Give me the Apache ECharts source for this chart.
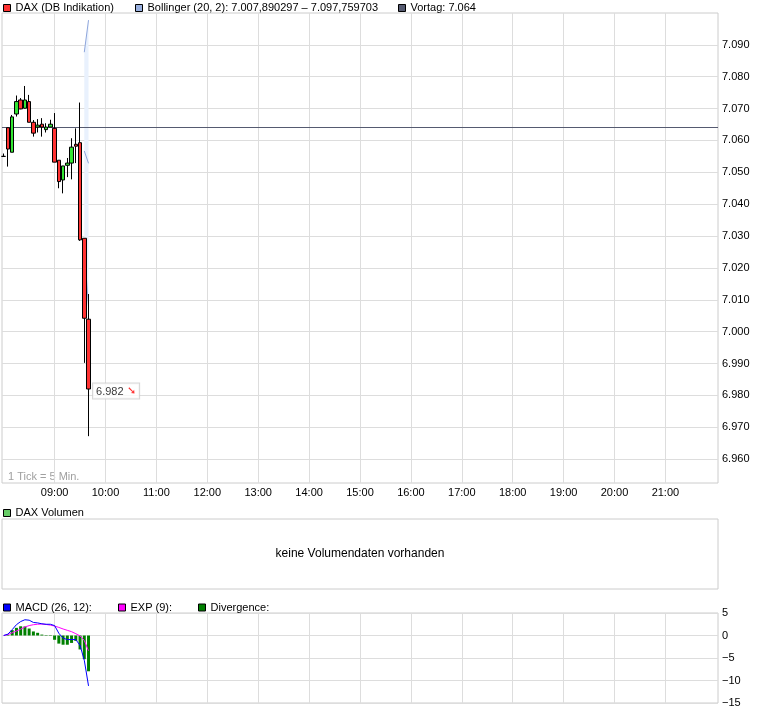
<!DOCTYPE html>
<html>
<head>
<meta charset="utf-8">
<script src="https://cdn.jsdelivr.net/npm/echarts@6/dist/echarts.min.js"></script>
<style>html,body{margin:0;padding:0;background:#fff}#c{width:760px;height:712px}</style>
</head>
<body>
<div id="c"></div>
<script>
// ---- data ----
const candleTimes = ['08:00','08:05','08:10','08:15','08:20','08:25','08:30','08:35','08:40','08:45','08:50','08:55','09:00','09:05','09:10','09:15','09:20','09:25','09:30','09:35','09:40'];
const openVals  = [7055.0,7064.0,7056.3,7068.3,7072.7,7070.1,7072.2,7065.7,7064.2,7065.1,7063.4,7064.2,7063.8,7053.8,7047.6,7052.2,7052.9,7058.8,7059.3,7029.3,7003.9];
const closeVals = [7055.0,7057.3,7067.4,7072.2,7069.9,7072.7,7065.7,7062.3,7064.8,7064.2,7064.2,7065.1,7053.2,7047.1,7052.0,7052.9,7057.9,7058.2,7028.8,7004.2,6982.0];
const lowVals   = [7055.0,7051.8,7056.3,7067.5,7069.8,7070.0,7065.7,7061.2,7062.5,7061.2,7062.5,7064.2,7053.2,7045.0,7043.4,7048.5,7047.8,7052.9,7028.5,6990.2,6967.2];
const highVals  = [7055.9,7064.0,7068.0,7074.1,7073.3,7077.1,7074.3,7066.4,7066.7,7067.0,7065.4,7066.5,7068.6,7053.8,7052.0,7054.5,7060.7,7063.8,7071.9,7029.3,7011.8];

const bollTimes  = ['09:35','09:40'];
const bollUpper  = [7087.7, 7097.759703];
const bollMiddle = [7056.7, 7052.825];
const bollLower  = [7025.7, 7007.890297];

const vortag = 7064;

const macdVals = [0, 0.3, 1.3, 2.4, 3.1, 3.5, 3.4, 2.9, 2.8, 2.6, 2.5, 2.5, 2.2, 0.5, -0.6, -0.9, -0.9, -0.9, -2.2, -5.5, -11.2];
const expVals  = [0, 0.2, 0.6, 1.0, 1.4, 1.9, 2.2, 2.4, 2.5, 2.55, 2.45, 2.3, 2.1, 1.8, 1.45, 1.15, 0.85, 0.4, -0.1, -1.1, -3.4];
const divVals  = [null, 0.15, 1.2, 1.7, 2.05, 2.0, 1.55, 0.9, 0.6, 0.2, 0.1, 0.1, -0.95, -1.8, -2.05, -2.05, -1.65, -1.2, -3.1, -5.25, -7.95];

const hourTicks  = ['09:00','10:00','11:00','12:00','13:00','14:00','15:00','16:00','17:00','18:00','19:00','20:00','21:00'];
const priceTicks = [6960,6970,6980,6990,7000,7010,7020,7030,7040,7050,7060,7070,7080,7090];

// ---- helpers ----
const toMin = s => { const p = s.split(':'); return (+p[0]) * 60 + (+p[1]); };
const pad2 = n => (n < 10 ? '0' : '') + n;
const minToLabel = m => pad2(Math.floor(m / 60)) + ':' + pad2(Math.round(m % 60));
function fmtDE(v, dec) {
  const s = Math.abs(v).toFixed(dec);
  const parts = s.split('.');
  const ip = parts[0].replace(/\B(?=(\d{3})+(?!\d))/g, '.');
  return (v < 0 ? '−' : '') + ip + (dec > 0 ? ',' + parts[1] : '');
}

const FONT = '"Liberation Sans", Arial, sans-serif';
const X_MIN = 478, X_MAX = 1322;
const hourMins = hourTicks.map(toMin);
const GRID_COLOR = '#dddddd';
const FRAME_COLOR = '#cccccc';

const nameDAX = 'DAX (DB Indikation)';
const nameBoll = 'Bollinger (20, 2): ' + fmtDE(bollLower[bollLower.length - 1], 6) + ' – ' + fmtDE(bollUpper[bollUpper.length - 1], 6);
const nameVortag = 'Vortag: ' + fmtDE(vortag, 0);
const nameVol = 'DAX Volumen';
const nameMACD = 'MACD (26, 12):';
const nameEXP = 'EXP (9):';
const nameDiv = 'Divergence:';

const candleData = candleTimes.map((t, i) => [toMin(t), openVals[i], closeVals[i], lowVals[i], highVals[i]]);
const lastIdx = candleTimes.length - 1;

function xAxisFor(gi, showLabels) {
  return {
    type: 'value', gridIndex: gi, min: X_MIN, max: X_MAX,
    axisLine: { show: false },
    axisTick: { show: false, customValues: hourMins },
    axisLabel: {
      show: showLabels, customValues: hourMins, formatter: v => minToLabel(v),
      color: '#000', fontSize: 11, fontFamily: FONT, margin: 4
    },
    splitLine: { show: gi !== 1, lineStyle: { color: GRID_COLOR, width: 1 } }
  };
}

function legendAt(left, top, name, color) {
  return {
    left: left, top: top, padding: 0, itemWidth: 7, itemHeight: 7, icon: 'rect',
    selectedMode: false,
    textStyle: { color: '#000', fontSize: 11, fontFamily: FONT },
    data: [{ name: name, icon: 'rect', itemStyle: { color: color, borderColor: '#000', borderWidth: 1 } }]
  };
}

const option = {
  animation: false,
  backgroundColor: '#fff',
  textStyle: { fontFamily: FONT },
  grid: [
    { left: 2, right: 42, top: 13, height: 470, show: true, borderColor: FRAME_COLOR, borderWidth: 1, outerBoundsMode: 'none' },
    { left: 2, right: 42, top: 519, height: 70, show: true, borderColor: FRAME_COLOR, borderWidth: 1, outerBoundsMode: 'none' },
    { left: 2, right: 42, top: 613, height: 90, show: true, borderColor: FRAME_COLOR, borderWidth: 1, outerBoundsMode: 'none' }
  ],
  legend: [
    legendAt(3, 2.5, nameDAX, '#ff3333'),
    legendAt(135, 2.5, nameBoll, '#99b0e0'),
    legendAt(398, 2.5, nameVortag, '#555a70'),
    legendAt(3, 507.5, nameVol, '#66cc66'),
    legendAt(3, 602, nameMACD, '#0000ff'),
    legendAt(118, 602, nameEXP, '#ff00ff'),
    legendAt(198, 602, nameDiv, '#008000')
  ],
  xAxis: [xAxisFor(0, true), xAxisFor(1, false), xAxisFor(2, false)],
  yAxis: [
    {
      type: 'value', gridIndex: 0, position: 'right', min: 6952.5, max: 7100, scale: true,
      axisLine: { show: false },
      axisTick: { show: false, customValues: priceTicks },
      axisLabel: { customValues: priceTicks, formatter: v => fmtDE(v, 0), color: '#000', fontSize: 11, fontFamily: FONT, margin: 4 },
      splitLine: { show: true, lineStyle: { color: GRID_COLOR, width: 1 } }
    },
    { type: 'value', gridIndex: 1, show: false, min: 0, max: 1, splitLine: { show: false } },
    {
      type: 'value', gridIndex: 2, position: 'right', min: -15, max: 5, interval: 5,
      axisLine: { show: false }, axisTick: { show: false },
      axisLabel: { formatter: v => (v < 0 ? '−' + Math.abs(v) : String(v)), color: '#000', fontSize: 11, fontFamily: FONT, margin: 4 },
      splitLine: { show: true, lineStyle: { color: GRID_COLOR, width: 1 } }
    }
  ],
  graphic: [
    { type: 'text', left: 8, top: 471, silent: true,
      style: { text: '1 Tick = 5 Min.', fill: '#a0a0a0', font: '11px ' + FONT } },
    { type: 'text', x: 360, y: 554, silent: true,
      style: { text: 'keine Volumendaten vorhanden', fill: '#000', font: '12px ' + FONT, align: 'center', verticalAlign: 'middle' } }
  ],
  series: [
    {
      name: nameBoll, type: 'custom', xAxisIndex: 0, yAxisIndex: 0, z: 1, silent: true,
      data: [[toMin(bollTimes[0]), bollUpper[0]]],
      encode: { x: 0, y: 1 },
      renderItem: (params, api) => {
        const pts = [];
        bollTimes.forEach((t, i) => pts.push(api.coord([toMin(t), bollUpper[i]])));
        for (let i = bollTimes.length - 1; i >= 0; i--) pts.push(api.coord([toMin(bollTimes[i]), bollLower[i]]));
        return { type: 'polygon', shape: { points: pts }, style: { fill: '#e9f1fd' } };
      }
    },
    ...[bollUpper, bollMiddle, bollLower].map(arr => ({
      name: nameBoll, type: 'line', xAxisIndex: 0, yAxisIndex: 0, z: 2, silent: true,
      symbol: 'none', color: '#99b0e0',
      lineStyle: { color: '#8ea6dc', width: 1 },
      data: bollTimes.map((t, i) => [toMin(t), arr[i]])
    })),
    {
      name: nameVortag, type: 'line', xAxisIndex: 0, yAxisIndex: 0, z: 3, silent: true,
      symbol: 'none', color: '#555a70',
      data: [[toMin(candleTimes[0]), vortag]],
      markLine: {
        silent: true, symbol: 'none', label: { show: false },
        lineStyle: { color: '#555a70', width: 1, type: 'solid' },
        data: [{ yAxis: vortag }]
      }
    },
    {
      name: nameDAX, type: 'candlestick', xAxisIndex: 0, yAxisIndex: 0, z: 5,
      barWidth: 4,
      encode: { x: 0, y: [1, 2, 3, 4] },
      itemStyle: { color: '#33e633', color0: '#ff3333', borderColor: '#000', borderColor0: '#000', borderColorDoji: '#000', borderWidth: 1 },
      data: candleData
    },
    {
      name: 'last', type: 'scatter', xAxisIndex: 0, yAxisIndex: 0, z: 6, silent: true,
      symbolSize: 1, itemStyle: { color: 'rgba(0,0,0,0)' },
      data: [[toMin(candleTimes[lastIdx]), closeVals[lastIdx]]],
      label: {
        show: true, position: 'right', distance: 4, offset: [0, 2],
        formatter: () => '{n|' + fmtDE(closeVals[lastIdx], 0) + '} {a|➘}',
        backgroundColor: '#fff', borderColor: '#cccccc', borderWidth: 1, padding: [2, 3, 1, 3],
        rich: {
          n: { fontSize: 11, color: '#000', fontFamily: FONT },
          a: { fontSize: 11, color: '#ff0000', fontWeight: 'bold', fontFamily: '"DejaVu Sans", sans-serif' }
        }
      }
    },
    {
      name: nameVol, type: 'bar', xAxisIndex: 1, yAxisIndex: 1, color: '#66cc66', data: []
    },
    {
      name: nameDiv, type: 'bar', xAxisIndex: 2, yAxisIndex: 2, z: 2, barWidth: 3, silent: true,
      color: '#008000',
      data: candleTimes.map((t, i) => [toMin(t), divVals[i]]).filter(d => d[1] !== null)
    },
    {
      name: nameEXP, type: 'line', xAxisIndex: 2, yAxisIndex: 2, z: 3, symbol: 'none', silent: true,
      color: '#ff00ff', lineStyle: { color: '#ff00ff', width: 1 },
      data: candleTimes.map((t, i) => [toMin(t), expVals[i]])
    },
    {
      name: nameMACD, type: 'line', xAxisIndex: 2, yAxisIndex: 2, z: 4, symbol: 'none', silent: true,
      color: '#0000ff', lineStyle: { color: '#0000ff', width: 1 },
      data: candleTimes.map((t, i) => [toMin(t), macdVals[i]])
    }
  ]
};

const chart = echarts.init(document.getElementById('c'), null, { renderer: 'canvas' });
chart.setOption(option);
</script>
</body>
</html>
